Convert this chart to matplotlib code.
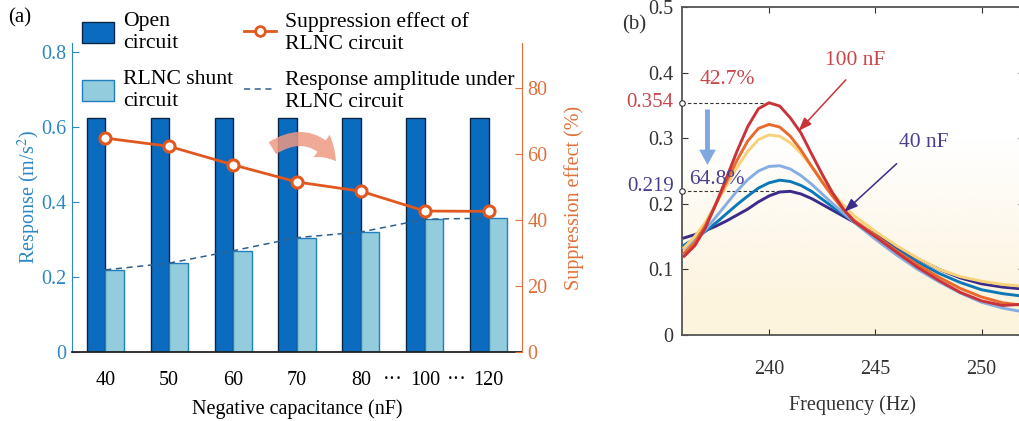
import numpy as np
import matplotlib
matplotlib.use('Agg')
import matplotlib.pyplot as plt
from matplotlib.patches import Patch, FancyArrowPatch
from matplotlib.lines import Line2D

plt.rcParams['font.family'] = ['Liberation Serif', 'DejaVu Serif']
plt.rcParams['mathtext.fontset'] = 'stix'

# ---- panel (a) data ----
capacitance = ['40', '50', '60', '70', '80', '100', '120']
open_circuit = [0.625, 0.625, 0.625, 0.625, 0.625, 0.625, 0.625]
rlnc_shunt = [0.219, 0.237, 0.270, 0.305, 0.320, 0.354, 0.357]
suppression = [64.8, 62.3, 56.7, 51.5, 48.7, 42.7, 42.6]

# ---- panel (b) data ----
freq = [236, 236.5, 237, 237.5, 238, 238.5, 239, 239.5, 240, 240.5, 241, 241.5,
        242, 242.5, 243, 243.5, 244, 245, 246, 247, 248, 249, 250, 251, 252]
resp_100nF = [0.120, 0.136, 0.163, 0.200, 0.240, 0.281, 0.318, 0.345, 0.354, 0.349, 0.331, 0.308,
              0.276, 0.245, 0.216, 0.192, 0.173, 0.150, 0.126, 0.103, 0.083, 0.065, 0.052, 0.045, 0.047]
resp_orange = [0.125, 0.141, 0.167, 0.200, 0.234, 0.267, 0.296, 0.315, 0.321, 0.317, 0.303, 0.282,
               0.257, 0.233, 0.211, 0.191, 0.175, 0.152, 0.128, 0.107, 0.088, 0.071, 0.058, 0.049, 0.045]
resp_yellow = [0.133, 0.150, 0.172, 0.200, 0.228, 0.256, 0.280, 0.298, 0.305, 0.303, 0.293, 0.277,
               0.257, 0.236, 0.216, 0.198, 0.182, 0.158, 0.136, 0.117, 0.100, 0.089, 0.082, 0.077, 0.074]
resp_lightblue = [0.132, 0.145, 0.160, 0.180, 0.200, 0.220, 0.237, 0.250, 0.257, 0.258, 0.253, 0.243,
                  0.230, 0.215, 0.200, 0.186, 0.172, 0.146, 0.122, 0.100, 0.081, 0.064, 0.050, 0.041, 0.035]
resp_teal = [0.137, 0.147, 0.158, 0.171, 0.185, 0.199, 0.212, 0.224, 0.232, 0.236, 0.234, 0.228,
             0.219, 0.207, 0.195, 0.184, 0.173, 0.150, 0.130, 0.111, 0.094, 0.080, 0.069, 0.063, 0.059]
resp_40nF = [0.148, 0.153, 0.159, 0.166, 0.174, 0.183, 0.192, 0.203, 0.212, 0.218, 0.219, 0.215,
             0.208, 0.199, 0.190, 0.181, 0.172, 0.153, 0.134, 0.116, 0.100, 0.087, 0.078, 0.073, 0.070]
peak_100nF = 0.354
peak_40nF = 0.219

c_dark = '#0B6BBF'
c_light = '#93CCDD'
c_orange = '#E0581F'
c_left = '#2B87C5'
c_right = '#E0703A'
c_red_txt = '#C9454A'
c_navy_txt = '#4A3F8F'
fs = 14.5

fig = plt.figure(figsize=(10.2, 4.21), dpi=100)

# ================= panel (a) =================
ax = fig.add_axes([72/1020, 1-352/421, 450/1020, 309/421])
x = np.arange(len(capacitance))
w = 0.29
ax.bar(x - w/2, open_circuit, w, color=c_dark, edgecolor='#0B2545', linewidth=1.0, zorder=2)
ax.bar(x + w/2, rlnc_shunt, w, color=c_light, edgecolor='#1F7FBF', linewidth=1.0, zorder=2)
ax.plot(x, rlnc_shunt, ls=(0, (4, 3)), color='#2F5F8A', lw=1.1, zorder=3)
ax.set_xlim(-0.52, 6.52)
ax.set_ylim(0, 0.824)
ax.set_yticks([0, 0.2, 0.4, 0.6, 0.8])
ax.set_yticklabels(['0', '0.2', '0.4', '0.6', '0.8'])
ax.set_xticks(x)
ax.set_xticklabels(capacitance)
# dots between the non-uniform categories
ax.set_xticks([4.5, 5.5], minor=True)
ax.set_xticklabels(['···', '···'], minor=True)
ax.tick_params(axis='x', which='major', direction='in', length=3, pad=14, labelsize=fs, color='#222222')
ax.tick_params(axis='x', which='minor', length=0, pad=14, labelsize=fs)
ax.tick_params(axis='y', direction='in', length=5, pad=4, labelsize=fs, colors=c_left)
ax.spines['top'].set_visible(False)
ax.spines['right'].set_visible(False)
ax.spines['left'].set_color(c_left)
ax.spines['bottom'].set_color('#222222')
ax.spines['bottom'].set_linewidth(1.3)
ax.set_ylabel('Response (m/s$^2$)', fontsize=fs, color=c_left, labelpad=-1)
ax.set_xlabel('Negative capacitance (nF)', fontsize=fs, labelpad=6)

ax_r = ax.twinx()
ax_r.plot(x, suppression, color=c_orange, lw=2.0, marker='o', ms=8,
          mfc='white', mec=c_orange, mew=2.2, zorder=4)
ax_r.set_ylim(0, 93.6)
ax_r.set_yticks([0, 20, 40, 60, 80])
ax_r.tick_params(axis='y', direction='in', length=5, pad=4, labelsize=fs, colors=c_right)
for s in ['top', 'left', 'bottom']:
    ax_r.spines[s].set_visible(False)
ax_r.spines['right'].set_color(c_right)
ax_r.set_ylabel('Suppression effect (%)', fontsize=fs, color=c_right, labelpad=12)

arr = FancyArrowPatch((0.44, 0.655), (0.59, 0.61), transform=ax.transAxes,
                      connectionstyle='arc3,rad=-0.5',
                      arrowstyle='simple,head_width=20,head_length=15,tail_width=10',
                      color='#EE9A82', alpha=0.85, zorder=5, lw=0)
ax.add_patch(arr)

handles = [Patch(facecolor=c_dark, edgecolor='#0B2545'),
           Patch(facecolor=c_light, edgecolor='#1F7FBF'),
           Line2D([], [], color=c_orange, lw=2, marker='o', ms=7, mfc='white', mec=c_orange, mew=2),
           Line2D([], [], color='#2F5F8A', lw=1.1, ls=(0, (4, 3)))]
labels = ['Open\ncircuit', 'RLNC shunt\ncircuit', 'Suppression effect of\nRLNC circuit',
          'Response amplitude under\nRLNC circuit']
fig.legend(handles, labels, loc='upper left', bbox_to_anchor=(71/1020, 1-1/421), ncol=2,
           frameon=False, fontsize=15.6, handlelength=1.5, handleheight=1.15,
           handletextpad=0.4, columnspacing=0.5, labelspacing=0.8, borderpad=0)
fig.text(8/1020, 1-18/421, '(a)', fontsize=15, va='center')

# ================= panel (b) =================
bx = fig.add_axes([682/1020, 1-335/421, 342/1020, 328/421])
grad_v = np.linspace(0.5, 0, 200)
alpha = np.clip((0.30 - grad_v) / 0.25, 0, 1)
img = np.zeros((200, 1, 4))
img[..., 0] = 253/255
img[..., 1] = 244/255
img[..., 2] = 222/255
img[..., 3] = alpha[:, None]
bx.imshow(img, extent=[235.9, 252, 0, 0.5], aspect='auto', zorder=0)

curves = [(resp_40nF, '#3B2C8C'), (resp_teal, '#0B78B8'), (resp_lightblue, '#86AEE3'),
          (resp_yellow, '#F7D27A'), (resp_orange, '#EA6A2E'), (resp_100nF, '#C9343A')]
for vals, col in curves:
    bx.plot(freq, vals, color=col, lw=2.1, zorder=3)

f_peak100 = freq[int(np.argmax(resp_100nF))]
f_peak40 = freq[int(np.argmax(resp_40nF))]
bx.plot([235.9, f_peak100], [peak_100nF, peak_100nF], ls=(0, (3, 2)), color='#333333', lw=0.8, zorder=2)
bx.plot([235.9, f_peak40], [peak_40nF, peak_40nF], ls=(0, (3, 2)), color='#333333', lw=0.8, zorder=2)
bx.plot([235.9, 235.9], [peak_100nF, peak_40nF], ls='none', marker='o', ms=4,
        mfc='white', mec='#333333', mew=0.8, clip_on=False, zorder=6)

bx.set_xlim(235.9, 252)
bx.set_ylim(0, 0.5)
bx.set_xticks([240, 245, 250])
bx.set_yticks([0, 0.1, 0.2, 0.3, 0.4, 0.5])
bx.set_yticklabels(['0', '0.1', '0.2', '0.3', '0.4', '0.5'])
bx.tick_params(direction='in', length=4, labelsize=fs, colors='#333333', top=True, right=True)
bx.tick_params(axis='x', pad=18)
bx.tick_params(axis='y', pad=6)
for s in bx.spines.values():
    s.set_color('#555555')
    s.set_linewidth(1.3)
bx.set_xlabel('Frequency (Hz)', fontsize=fs, color='#333333', labelpad=12)

bx.text(235.5, peak_100nF, '0.354', color=c_red_txt, fontsize=15, ha='right', va='center', clip_on=False)
bx.text(235.5, peak_40nF + 0.008, '0.219', color=c_navy_txt, fontsize=15, ha='right', va='center', clip_on=False)
bx.text(238.05, 0.39, '42.7%', color=c_red_txt, fontsize=15.5, ha='center', va='center')
bx.text(237.55, 0.237, '64.8%', color=c_navy_txt, fontsize=15.5, ha='center', va='center')
bx.annotate('', xy=(237.1, 0.255), xytext=(237.1, 0.348),
            arrowprops=dict(arrowstyle='simple,head_width=1.2,head_length=1.1,tail_width=0.35',
                            color='#7FA8E0', lw=0))
bx.text(244.05, 0.418, '100 nF', color=c_red_txt, fontsize=15.5, ha='center', va='center')
bx.annotate('', xy=(241.3, 0.308), xytext=(243.7, 0.392),
            arrowprops=dict(arrowstyle='-|>,head_width=0.3,head_length=0.8', color='#C9343A', lw=1.1))
bx.text(247.3, 0.294, '40 nF', color=c_navy_txt, fontsize=15.5, ha='center', va='center')
bx.annotate('', xy=(243.45, 0.185), xytext=(246.1, 0.264),
            arrowprops=dict(arrowstyle='-|>,head_width=0.3,head_length=0.8', color='#3B2C8C', lw=1.1))
fig.text(622/1020, 1-25/421, '(b)', fontsize=15, va='center', color='#333333')

fig.savefig('out.png', dpi=100)
